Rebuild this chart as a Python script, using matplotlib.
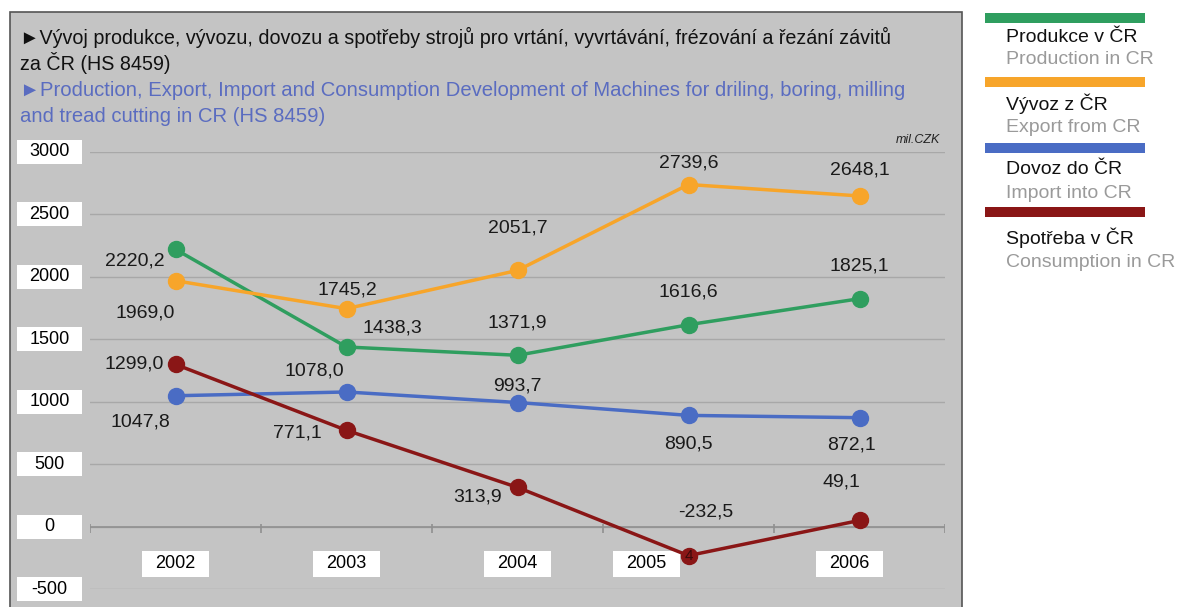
import numpy as np
import matplotlib.pyplot as plt
from matplotlib.patches import Rectangle

plt.rcParams['font.family'] = ['Liberation Sans', 'DejaVu Sans']

roky = ['2002', '2003', '2004', '2005', '2006']
produkce = [2220.2, 1438.3, 1371.9, 1616.6, 1825.1]
vyvoz = [1969.0, 1745.2, 2051.7, 2739.6, 2648.1]
dovoz = [1047.8, 1078.0, 993.7, 890.5, 872.1]
spotreba = [1299.0, 771.1, 313.9, -232.5, 49.1]
osa_y = [-500, 0, 500, 1000, 1500, 2000, 2500, 3000]

nazvy_cz = ['Produkce v ČR', 'Vývoz z ČR', 'Dovoz do ČR', 'Spotřeba v ČR']
nazvy_en = ['Production in CR', 'Export from CR', 'Import into CR', 'Consumption in CR']
barvy = ['#2f9e5f', '#f7a52a', '#4a6cc4', '#8a1616']

# posuny popisku v pixelech (dx, dy)
posuny = [
    [(-41, -12), (46, 19), (0, 32), (0, 33), (0, 33)],
    [(-30, -32), (1, 19), (0, 42), (0, 22), (0, 26)],
    [(-35, -26), (-32, 21), (0, 17), (0, -29), (-8, -27)],
    [(-41, 0), (-49, -3), (-40, -10), (17, 44), (-18, 38)],
]
posun_roku = [0, 0, 0, -42, -10]

W, H = 1180, 607
fig = plt.figure(figsize=(W/100, H/100), dpi=100)
fig.patch.set_facecolor('white')

def fx(px):
    return px/W
def fy(py):
    return 1-py/H

# sedy panel
fig.patches.append(Rectangle((fx(10), fy(620)), fx(962)-fx(10), (620-12)/H,
                             transform=fig.transFigure, fc='#c4c4c4', ec='#555555', lw=1.2, zorder=-10))

ax = fig.add_axes([fx(90), fy(589), fx(945)-fx(90), (589-152)/H])
ax.set_zorder(5)
ax.set_xlim(-0.5, 4.5)
ax.set_ylim(-500, 3000)
ax.patch.set_visible(False)
for s in ax.spines.values():
    s.set_visible(False)
ax.set_xticks([])
ax.set_yticks([])

for v in osa_y:
    ax.axhline(v, color='#a8a8a8', lw=1, zorder=1)
ax.axhline(0, color='#909090', lw=1.2, zorder=1)
ax.vlines(np.arange(-0.5, 5, 1), -55, 20, color='#909090', lw=1.2, zorder=1)

ty = ax.get_yaxis_transform()
for v in osa_y:
    ax.add_patch(Rectangle((-0.0854, v-96), 0.076, 192, transform=ty, fc='white', ec='none', clip_on=False, zorder=2))
    ax.text(-0.0474, v, str(v), transform=ty, ha='center', va='center', fontsize=13, zorder=3)

x = np.arange(len(roky))
for i, rada in enumerate([produkce, vyvoz, dovoz, spotreba]):
    ax.plot(x, rada, color=barvy[i], lw=2.5, marker='o', ms=11.5, zorder=4, clip_on=False)
    for j, v in enumerate(rada):
        ax.annotate(f'{v:.1f}'.replace('.', ','), (x[j], v), xytext=posuny[i][j], textcoords='offset pixels',
                    ha='center', va='center', fontsize=14, color='#1a1a1a', zorder=6)

for j, r in enumerate(roky):
    cx = x[j] + posun_roku[j]/171
    ax.add_patch(Rectangle((cx-0.196, -400), 0.392, 208, fc='white', ec='none', zorder=3, clip_on=False))
    ax.text(cx, -296, r, ha='center', va='center', fontsize=13, zorder=3)
ax.text(x[3], spotreba[3], '4', ha='center', va='center', fontsize=11, color='#3a0a0a', zorder=5)

fig.text(fx(20), fy(37), '►Vývoj produkce, vývozu, dovozu a spotřeby strojů pro vrtání, vyvrtávání, frézování a řezání závitů',
         fontsize=14.2, va='center', color='#111111')
fig.text(fx(20), fy(63), 'za ČR (HS 8459)', fontsize=14.2, va='center', color='#111111')
fig.text(fx(20), fy(91), '►Production, Export, Import and Consumption Development of Machines for driling, boring, milling',
         fontsize=14.6, va='center', color='#5a6cc0')
fig.text(fx(20), fy(117), 'and tread cutting in CR (HS 8459)', fontsize=14.6, va='center', color='#5a6cc0')
fig.text(fx(940), fy(140), 'mil.CZK', fontsize=9, style='italic', ha='right', va='center', color='#222222')

# legenda
pruhy = [13, 77, 143, 207]
texty_cz = [38, 104, 170, 238]
texty_en = [60, 127, 193, 263]
for i in range(4):
    fig.patches.append(Rectangle((fx(985), fy(pruhy[i]+10)), fx(1145)-fx(985), 10/H,
                                 transform=fig.transFigure, fc=barvy[i], ec='none'))
    fig.text(fx(1006), fy(texty_cz[i]), nazvy_cz[i], fontsize=14, va='center', color='#111111')
    fig.text(fx(1006), fy(texty_en[i]), nazvy_en[i], fontsize=14, va='center', color='#9a9a9a')

fig.savefig('out.png', dpi=100)
